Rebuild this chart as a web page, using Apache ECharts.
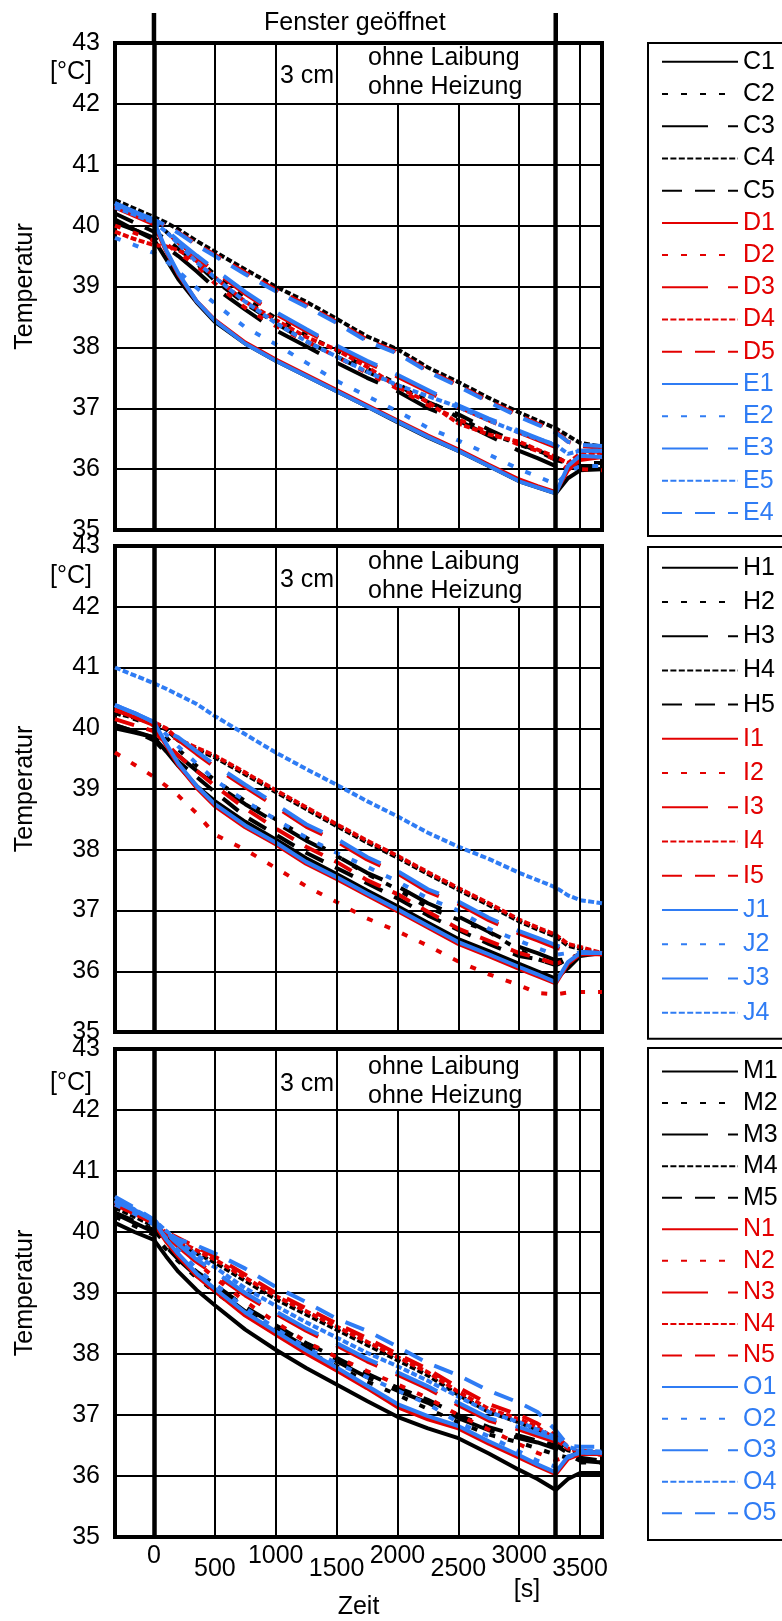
<!DOCTYPE html>
<html><head><meta charset="utf-8">
<script src="https://cdn.jsdelivr.net/npm/echarts@6/dist/echarts.min.js"></script>
<style>html,body{margin:0;padding:0;background:#fff}#c{width:782px;height:1621px}</style>
</head><body><div id="c"></div>
<script>
// ---------- data ----------
const TIME = [-320,-160,0,100,200,350,500,750,1000,1250,1500,1750,2000,2250,2500,2750,3000,3150,3300,3400,3500,3680];
const X_GRID_FULL = [500,1000,1500,3500];
const X_GRID_SHORT = [2000,2500,3000];
const X_THICK = [0,3300];
const Y_MIN = 35, Y_MAX = 43;

// panel 1
const C1 = [40.10,39.93,39.77,39.45,39.12,38.74,38.42,38.06,37.78,37.53,37.28,37.03,36.77,36.52,36.30,36.05,35.80,35.70,35.60,35.85,35.98,36.00];
const C2 = [40.35,40.20,40.05,39.90,39.72,39.45,39.20,38.80,38.48,38.20,37.95,37.65,37.40,37.12,36.85,36.60,36.40,36.30,36.20,36.10,36.10,36.10];
const C3 = [40.05,39.93,39.80,39.65,39.50,39.25,38.98,38.62,38.28,38.02,37.75,37.50,37.28,37.00,36.80,36.55,36.30,36.18,36.05,36.05,36.00,36.00];
const C4 = [40.42,40.28,40.14,40.05,39.94,39.75,39.57,39.28,39.00,38.75,38.47,38.18,37.97,37.67,37.43,37.17,36.93,36.80,36.67,36.55,36.43,36.37];
const C5 = [40.20,40.05,39.90,39.78,39.62,39.38,39.10,38.72,38.40,38.10,37.85,37.60,37.38,37.10,36.90,36.65,36.42,36.30,36.15,36.10,36.05,36.05];
const D1 = [40.30,40.16,40.02,39.58,39.20,38.76,38.45,38.08,37.80,37.55,37.30,37.05,36.80,36.55,36.32,36.07,35.83,35.72,35.62,35.98,36.15,36.20];
const D2 = [40.00,39.88,39.75,39.70,39.55,39.35,39.05,38.65,38.35,38.10,37.85,37.58,37.32,37.05,36.82,36.60,36.40,36.30,36.15,36.00,36.00,35.98];
const D3 = [40.33,40.20,40.08,39.90,39.72,39.48,39.25,38.88,38.55,38.27,38.00,37.75,37.52,37.27,37.02,36.80,36.60,36.48,36.36,36.30,36.30,36.28];
const D4 = [39.90,39.78,39.68,39.66,39.60,39.42,39.15,38.75,38.45,38.17,37.96,37.68,37.35,37.10,36.75,36.57,36.45,36.32,36.20,36.10,36.25,36.27];
const D5 = [40.33,40.20,40.08,40.00,39.89,39.70,39.52,39.23,38.95,38.70,38.42,38.13,37.92,37.62,37.38,37.12,36.88,36.75,36.62,36.45,36.38,36.35];
const E1 = [40.37,40.22,40.07,39.60,39.22,38.76,38.44,38.06,37.78,37.53,37.28,37.03,36.78,36.53,36.30,36.05,35.80,35.70,35.60,36.05,36.22,36.20];
const E2 = [39.80,39.68,39.55,39.42,39.25,38.98,38.72,38.33,38.05,37.75,37.45,37.20,36.95,36.68,36.47,36.24,36.00,35.88,35.75,35.95,36.05,36.05];
const E3 = [40.37,40.23,40.10,39.93,39.75,39.51,39.28,38.91,38.58,38.30,38.03,37.78,37.55,37.30,37.05,36.83,36.63,36.51,36.39,36.30,36.30,36.30];
const E4 = [40.35,40.22,40.10,40.00,39.88,39.68,39.50,39.20,38.92,38.67,38.40,38.10,37.90,37.60,37.36,37.10,36.86,36.73,36.60,36.45,36.40,36.38];
const E5 = [40.30,40.18,40.05,39.90,39.70,39.40,39.15,38.75,38.40,38.10,37.85,37.60,37.38,37.20,37.02,36.80,36.60,36.50,36.40,36.25,36.30,36.30];
// panel 2
const H1 = [40.05,39.95,39.85,39.62,39.38,39.05,38.80,38.46,38.17,37.86,37.60,37.33,37.07,36.80,36.53,36.33,36.12,36.00,35.88,36.05,36.25,36.30];
const H2 = [40.25,40.15,40.05,39.85,39.65,39.38,39.15,38.80,38.50,38.20,37.90,37.60,37.35,37.05,36.85,36.65,36.35,36.20,36.10,36.20,36.28,36.30];
const H3 = [40.00,39.93,39.85,39.70,39.55,39.30,39.08,38.75,38.45,38.15,37.90,37.62,37.40,37.12,36.90,36.65,36.40,36.30,36.18,36.20,36.28,36.30];
const H4 = [40.25,40.17,40.08,39.98,39.80,39.65,39.52,39.24,38.95,38.67,38.39,38.12,37.87,37.60,37.34,37.09,36.82,36.69,36.57,36.42,36.37,36.28];
const H5 = [40.05,39.95,39.80,39.60,39.45,39.20,38.95,38.55,38.25,37.95,37.70,37.45,37.20,36.92,36.68,36.45,36.25,36.20,36.10,36.20,36.28,36.30];
const I1 = [40.30,40.18,40.05,39.72,39.39,39.02,38.72,38.37,38.09,37.77,37.52,37.25,36.99,36.72,36.45,36.25,36.04,35.92,35.80,36.12,36.28,36.28];
const I2 = [39.60,39.40,39.20,39.05,38.89,38.60,38.25,38.00,37.70,37.40,37.14,36.87,36.66,36.42,36.16,35.95,35.77,35.64,35.62,35.65,35.66,35.66];
const I3 = [40.34,40.21,40.06,39.91,39.81,39.58,39.36,39.03,38.71,38.38,38.14,37.84,37.61,37.31,37.11,36.84,36.62,36.51,36.39,36.33,36.30,36.28];
const I4 = [40.30,40.20,40.10,40.00,39.82,39.68,39.55,39.27,38.98,38.70,38.42,38.15,37.90,37.63,37.37,37.12,36.85,36.72,36.60,36.45,36.40,36.30];
const I5 = [40.15,40.05,39.95,39.75,39.55,39.30,39.05,38.68,38.35,38.05,37.80,37.50,37.27,36.98,36.70,36.50,36.30,36.22,36.12,36.20,36.28,36.30];
const J1 = [40.38,40.25,40.10,39.75,39.42,39.05,38.75,38.40,38.12,37.80,37.55,37.28,37.02,36.75,36.48,36.28,36.07,35.95,35.82,36.15,36.30,36.30];
const J2 = [40.38,40.25,40.10,39.90,39.70,39.42,39.15,38.80,38.50,38.20,37.95,37.72,37.48,37.20,37.00,36.70,36.50,36.38,36.27,36.30,36.30,36.30];
const J3 = [40.38,40.25,40.10,39.95,39.85,39.62,39.40,39.07,38.75,38.42,38.18,37.88,37.65,37.35,37.15,36.88,36.66,36.55,36.43,36.35,36.32,36.30];
const J4 = [41.00,40.87,40.74,40.65,40.55,40.40,40.20,39.90,39.60,39.33,39.07,38.80,38.55,38.28,38.05,37.85,37.62,37.50,37.38,37.25,37.17,37.12];
// panel 3
const M1 = [40.15,40.00,39.87,39.60,39.35,39.05,38.80,38.40,38.07,37.77,37.50,37.23,36.97,36.78,36.62,36.37,36.10,35.95,35.77,35.95,36.05,36.05];
const M2 = [40.25,40.10,39.95,39.72,39.52,39.25,39.02,38.65,38.33,38.05,37.80,37.55,37.33,37.10,36.88,36.68,36.55,36.45,36.35,36.30,36.22,36.22];
const M3 = [40.30,40.15,40.00,39.76,39.55,39.28,39.07,38.70,38.40,38.12,37.88,37.62,37.40,37.20,36.95,36.75,36.62,36.55,36.45,36.35,36.25,36.22];
const M4 = [40.40,40.25,40.10,39.90,39.80,39.65,39.50,39.20,38.90,38.65,38.40,38.15,37.90,37.65,37.33,37.05,36.88,36.75,36.55,36.42,36.38,36.35];
const M5 = [40.32,40.18,40.03,39.80,39.60,39.35,39.14,38.77,38.47,38.18,37.94,37.68,37.45,37.25,37.00,36.80,36.66,36.58,36.50,36.38,36.30,36.25];
const N1 = [40.45,40.30,40.14,39.84,39.60,39.28,39.03,38.63,38.32,38.01,37.73,37.44,37.13,36.93,36.78,36.53,36.30,36.16,36.03,36.28,36.36,36.36];
const N2 = [40.50,40.35,40.20,39.98,39.80,39.50,39.25,38.86,38.52,38.20,37.95,37.72,37.50,37.28,37.00,36.76,36.52,36.38,36.26,36.32,36.38,36.38];
const N3 = [40.46,40.31,40.14,39.94,39.76,39.51,39.31,38.96,38.66,38.38,38.14,37.88,37.66,37.43,37.16,36.91,36.76,36.66,36.56,36.42,36.38,36.36];
const N4 = [40.45,40.30,40.15,39.95,39.85,39.70,39.55,39.25,38.95,38.70,38.45,38.20,37.95,37.70,37.38,37.10,36.93,36.80,36.60,36.45,36.40,36.35];
const N5 = [40.50,40.35,40.19,40.00,39.90,39.75,39.60,39.30,39.00,38.75,38.50,38.26,38.00,37.75,37.45,37.18,37.00,36.86,36.66,36.48,36.42,36.38];
const O1 = [40.52,40.36,40.19,39.88,39.64,39.32,39.07,38.68,38.37,38.06,37.78,37.48,37.18,36.98,36.82,36.57,36.34,36.19,36.06,36.32,36.38,36.38];
const O2 = [40.45,40.30,40.12,39.90,39.70,39.40,39.15,38.75,38.42,38.10,37.85,37.62,37.40,37.18,36.88,36.65,36.40,36.25,36.15,36.30,36.38,36.38];
const O3 = [40.50,40.35,40.18,39.98,39.80,39.55,39.35,39.00,38.70,38.42,38.18,37.92,37.70,37.47,37.20,36.95,36.80,36.70,36.60,36.45,36.40,36.38];
const O4 = [40.52,40.37,40.20,40.02,39.86,39.62,39.42,39.08,38.79,38.52,38.27,38.02,37.80,37.56,37.30,37.05,36.88,36.76,36.64,36.48,36.42,36.40];
const O5 = [40.58,40.40,40.20,39.98,39.88,39.78,39.65,39.40,39.10,38.85,38.58,38.38,38.12,37.85,37.65,37.40,37.20,37.05,36.75,36.50,36.48,36.48];

const LEGEND_1 = ['C1','C2','C3','C4','C5','D1','D2','D3','D4','D5','E1','E2','E3','E5','E4'];
const LEGEND_2 = ['H1','H2','H3','H4','H5','I1','I2','I3','I4','I5','J1','J2','J3','J4'];
const LEGEND_3 = ['M1','M2','M3','M4','M5','N1','N2','N3','N4','N5','O1','O2','O3','O4','O5'];

const VALUES = {C1,C2,C3,C4,C5,D1,D2,D3,D4,D5,E1,E2,E3,E4,E5,H1,H2,H3,H4,H5,I1,I2,I3,I4,I5,J1,J2,J3,J4,M1,M2,M3,M4,M5,N1,N2,N3,N4,N5,O1,O2,O3,O4,O5};

// ---------- styling ----------
const FONT = '"Liberation Sans", Arial, Helvetica, sans-serif';
const FS = 25;
const RED = '#e30000', BLUE = '#2f7cf4', BLACK = '#000000';
const LW = 4;
const DASH = {1:'solid', 2:[6,13], 3:[46,20], 4:[6,2.4], 5:[20,13]};
function colorOf(n){ return 'CHM'.includes(n[0]) ? BLACK : ('DIN'.includes(n[0]) ? RED : BLUE); }
function dashOf(n){ const sw = {E4:5, E5:4}; return DASH[sw[n] || +n[1]]; }

const PANELS = [
  {top:43,  height:487, legend:LEGEND_1, lTop:43,   gap:7.22, pt:6.3,  pb:10.6, degY:29, cmY:33, l1:15, l2:44},
  {top:546, height:486, legend:LEGEND_2, lTop:547,  gap:9.23, pt:8.2,  pb:13.6, degY:30, cmY:34, l1:16, l2:45},
  {top:1049,height:488, legend:LEGEND_3, lTop:1048, gap:6.56, pt:11.0, pb:14.2, degY:34, cmY:35, l1:18, l2:47}
];

const grids = [], xAxes = [], yAxes = [], series = [], legends = [];
PANELS.forEach((p, i) => {
  grids.push({left:115, right:180, top:p.top, height:p.height, show:true, borderColor:'#000', borderWidth:4, backgroundColor:'transparent'});
  xAxes.push({
    gridIndex:i, type:'value', min:-320, max:3680, splitNumber:8,
    axisLine:{show:false}, axisTick:{show:false}, splitLine:{show:false},
    axisLabel:{show: i === 2, color:'#000', fontSize:FS, fontFamily:FONT, margin:13, lineHeight:13,
      formatter: v => (v % 1000 === 0 && v >= 0 && v <= 3500) ? String(v) : ((v % 500 === 0 && v > 0 && v <= 3500) ? '\n' + v : '')},
    name: i === 2 ? 'Zeit' : '', nameLocation:'middle', nameGap:58,
    nameTextStyle:{color:'#000', fontSize:FS, fontFamily:FONT}
  });
  yAxes.push({
    gridIndex:i, type:'value', min:Y_MIN, max:Y_MAX, interval:1,
    axisLine:{show:false}, axisTick:{show:false},
    splitLine:{show:true, lineStyle:{color:'#000', width:2}},
    axisLabel:{color:'#000', fontSize:FS, fontFamily:FONT, margin:15},
    name:'Temperatur', nameLocation:'middle', nameGap:77,
    nameTextStyle:{color:'#000', fontSize:FS, fontFamily:FONT}
  });
  const ml = [];
  X_GRID_FULL.forEach(v => ml.push({xAxis:v}));
  X_GRID_SHORT.forEach(v => ml.push([{coord:[v, Y_MIN]}, {coord:[v, Y_MAX - 1]}]));
  X_THICK.forEach(v => ml.push({xAxis:v, lineStyle:{width:4.5}}));
  series.push({
    type:'line', name:'grid' + i, xAxisIndex:i, yAxisIndex:i, data:[], z:1, silent:true,
    markLine:{silent:true, symbol:['none','none'], label:{show:false}, animation:false,
      lineStyle:{color:'#000', width:2, type:'solid'}, emphasis:{disabled:true}, data:ml}
  });
  p.legend.forEach(n => {
    series.push({
      type:'line', name:n, xAxisIndex:i, yAxisIndex:i, symbol:'none', smooth:false, z:3,
      data: TIME.map((t, k) => [t, VALUES[n][k]]),
      lineStyle:{color:colorOf(n), width:LW, type:dashOf(n), cap:'butt'},
      itemStyle:{color:colorOf(n)}
    });
  });
  legends.push({
    orient:'vertical', left:648, top:p.lTop, itemWidth:76, itemHeight:4, itemGap:p.gap,
    padding:[p.pt, 40, p.pb, 13], borderColor:'#000', borderWidth:2, selectedMode:false,
    itemStyle:{opacity:0},
    textStyle:{fontSize:FS, fontFamily:FONT, lineHeight:14, padding:[10,0,0,0]},
    data: p.legend.map(n => ({name:n, textStyle:{color:colorOf(n)}}))
  });
});

const chart = echarts.init(document.getElementById('c'), null, {renderer:'canvas'});
chart.setOption({
  animation:false, backgroundColor:'#fff',
  grid:grids, xAxis:xAxes, yAxis:yAxes, legend:legends, series:series
});

const x0 = chart.convertToPixel({xAxisIndex:0}, 0);
const x1 = chart.convertToPixel({xAxisIndex:0}, 3300);
const txt = (text, x, y, align) => ({type:'text', silent:true, z:50,
  style:{text:text, x:x, y:y, fill:'#000', font: FS + 'px ' + FONT, align:align || 'left', verticalAlign:'middle'}});
const g = [
  {type:'line', silent:true, z:50, shape:{x1:x0, y1:13, x2:x0, y2:43}, style:{stroke:'#000', lineWidth:4.5}},
  {type:'line', silent:true, z:50, shape:{x1:x1, y1:13, x2:x1, y2:43}, style:{stroke:'#000', lineWidth:4.5}},
  txt('Fenster geöffnet', (x0 + x1) / 2, 23, 'center'),
  txt('[s]', 527, 1590, 'center')
];
PANELS.forEach(p => {
  g.push(txt('[°C]', 71, p.top + p.degY, 'center'));
  g.push(txt('3 cm', 280, p.top + p.cmY, 'left'));
  g.push(txt('ohne Laibung', 368, p.top + p.l1, 'left'));
  g.push(txt('ohne Heizung', 368, p.top + p.l2, 'left'));
});
chart.setOption({graphic:g});
</script></body></html>
